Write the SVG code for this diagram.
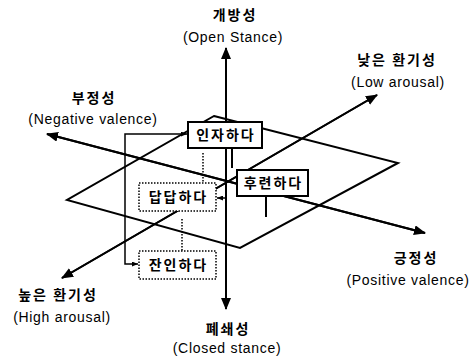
<svg xmlns="http://www.w3.org/2000/svg" width="474" height="358" viewBox="0 0 474 358">
<style>
.ax{stroke:#000;stroke-width:2;fill:none}
.pl{stroke:#000;stroke-width:2;fill:none;stroke-linejoin:miter}
.box{fill:#fff;stroke:#000;stroke-width:2}
.dbox{fill:#fff;stroke:#000;stroke-width:1.5;stroke-dasharray:1.5 1.5}
.dot{stroke:#000;stroke-width:1.5;stroke-dasharray:1.5 1.5;fill:none}
.thin{stroke:#000;stroke-width:1.5;fill:none}
.leg{stroke:#000;stroke-width:2;fill:none}
.ko{font-family:"Noto Sans CJK KR","Noto Sans",sans-serif;font-size:14px;font-weight:bold;letter-spacing:2px;text-anchor:middle}
.en{font-family:"Liberation Sans",Arial,sans-serif;font-size:14px;letter-spacing:0.7px;text-anchor:middle}
</style>
<defs>
<marker id="big" viewBox="0 0 12 10" refX="11" refY="5" markerWidth="12" markerHeight="10" markerUnits="userSpaceOnUse" orient="auto">
<path d="M0,0 L12,5 L0,10 z" fill="#000"/>
</marker>
<marker id="sm" viewBox="0 0 6 5" refX="6" refY="2.5" markerWidth="6" markerHeight="5" markerUnits="userSpaceOnUse" orient="auto">
<path d="M0,0 L6,2.5 L0,5 z" fill="#000"/>
</marker>
<marker id="smstart" viewBox="0 0 6 5" refX="0" refY="2.5" markerWidth="6" markerHeight="5" markerUnits="userSpaceOnUse" orient="auto">
<path d="M6,0 L0,2.5 L6,5 z" fill="#000"/>
</marker>
</defs>
<rect width="474" height="358" fill="#fff"/>
<g id="plane">
<path class="pl" d="M214,116 L398,163 L240,248 L67,200 Z"/>
</g>
<g id="connectors">
<line class="ax" x1="226" y1="309" x2="226" y2="48" marker-end="url(#big)"/>
<line class="ax" x1="226" y1="48" x2="226" y2="309" marker-end="url(#big)"/>
<line class="ax" x1="47" y1="134" x2="425" y2="233" marker-end="url(#big)"/>
<line class="ax" x1="425" y1="233" x2="47" y2="134" marker-end="url(#big)"/>
<line class="ax" x1="62" y1="278" x2="377" y2="95" marker-end="url(#big)"/>
<line class="ax" x1="377" y1="95" x2="62" y2="278" marker-end="url(#big)"/>
</g>
<g id="n-inja">
<rect class="box" x="188" y="122" width="74" height="26"/>
<text class="ko" x="226" y="140">인자하다</text>
</g>
<g id="n-huryeon">
<rect class="box" x="237" y="170" width="71" height="26"/>
<text class="ko" x="273.5" y="188">후련하다</text>
</g>
<g id="n-dapdap">
<rect class="dbox" x="139" y="183" width="77" height="28"/>
<text class="ko" x="178.5" y="202">답답하다</text>
</g>
<g id="n-janin">
<rect class="dbox" x="139" y="251" width="77" height="28"/>
<text class="ko" x="178.5" y="270">잔인하다</text>
</g>
<g id="links">
<line class="leg" x1="232" y1="148" x2="232" y2="168"/>
<line class="leg" x1="266" y1="196" x2="266" y2="217"/>
<line class="dot" x1="203" y1="153" x2="203" y2="183"/>
<line class="dot" x1="182" y1="219" x2="182" y2="251"/>
<line class="thin" x1="225" y1="198" x2="217" y2="198" marker-end="url(#sm)"/>
<polyline class="thin" points="187,134 125,134 125,264 138,264" marker-start="url(#smstart)" marker-end="url(#sm)"/>
</g>
<g id="labels">
<text class="ko" x="235" y="20">개방성</text>
<text class="en" x="233" y="42">(Open Stance)</text>
<text class="ko" x="397" y="65">낮은 환기성</text>
<text class="en" x="398" y="87">(Low arousal)</text>
<text class="ko" x="94" y="103">부정성</text>
<text class="en" x="93" y="124">(Negative valence)</text>
<text class="ko" x="416" y="263">긍정성</text>
<text class="en" x="408" y="285">(Positive valence)</text>
<text class="ko" x="58" y="300">높은 환기성</text>
<text class="en" x="62" y="322">(High arousal)</text>
<text class="ko" x="228" y="334">폐쇄성</text>
<text class="en" x="227" y="353">(Closed stance)</text>
</g>
</svg>
